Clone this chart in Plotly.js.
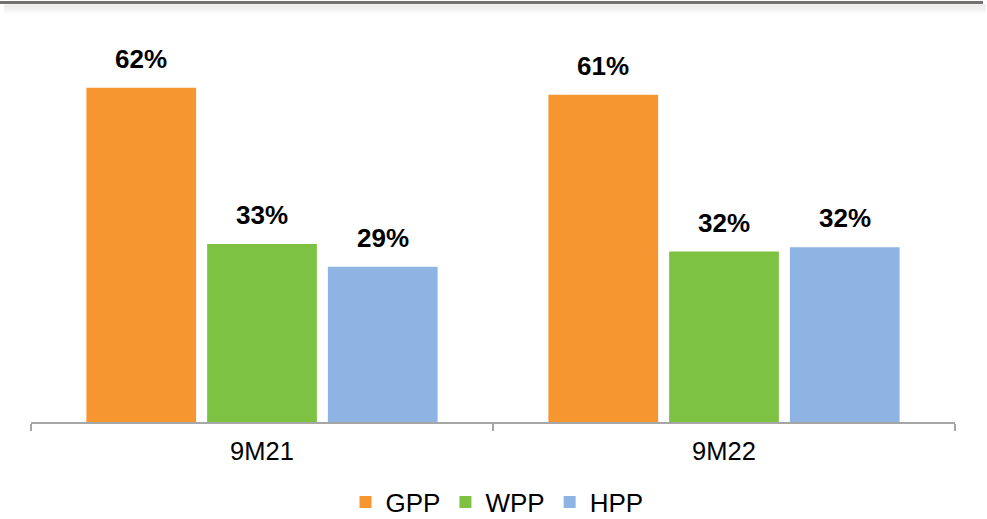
<!DOCTYPE html>
<html><head><meta charset="utf-8">
<script src="https://cdn.plot.ly/plotly-3.0.1.min.js"></script>
<style>html,body{margin:0;padding:0;background:#fff}#chart{width:987px;height:519px}</style>
</head><body><div id="chart"></div>
<script>
// ---- data ----
const categories = ['9M21', '9M22'];
const seriesNames = ['GPP', 'WPP', 'HPP'];
const gppValues = [62.0, 60.7];
const wppValues = [33.0, 31.6];
const hppValues = [28.8, 32.4];

// ---- styles / layout constants ----
const colors = ['#F59630', '#7EC244', '#8EB4E3'];
const W = 987, H = 519;
const margin = {l: 31, r: 32, t: 30, b: 97, autoexpand: false};
const yMax = 72.7;
const bargap = 0.216, bargroupgap = 0.091;
const FONT = 'Liberation Sans, Arial, sans-serif';

const series = [gppValues, wppValues, hppValues];
const traces = series.map((vals, i) => ({
  type: 'bar', name: seriesNames[i], x: categories, y: vals,
  marker: {color: colors[i]}, hoverinfo: 'skip'
}));

const slot = (1 - bargap) / series.length;
const annotations = [];
series.forEach((vals, i) => vals.forEach((v, j) => annotations.push({
  xref: 'x', yref: 'y', x: j + (i - (series.length - 1) / 2) * slot, y: v,
  text: '<b>' + Math.round(v) + '%</b>', showarrow: false,
  yanchor: 'bottom', yshift: 12,
  font: {family: FONT, size: 26, color: '#000'}
})));

const plotH = H - margin.t - margin.b;
const pyToPaper = py => 1 + (margin.t - py) / plotH;
const pxToPaper = px => (px - margin.l) / (W - margin.l - margin.r);
const shapes = [];
// soft shadow under the top rule
for (let k = 0; k < 10; k++) {
  shapes.push({type: 'line', xref: 'paper', yref: 'paper',
    x0: pxToPaper(4), x1: pxToPaper(986), y0: pyToPaper(5 + k), y1: pyToPaper(5 + k),
    line: {color: 'rgba(120,120,120,' + (0.16 * (1 - k / 10)).toFixed(3) + ')', width: 1}});
}
shapes.push({type: 'line', xref: 'paper', yref: 'paper',
  x0: pxToPaper(0), x1: pxToPaper(983), y0: pyToPaper(2.5), y1: pyToPaper(2.5),
  line: {color: '#767171', width: 3}});

const layout = {
  width: W, height: H, margin: margin,
  paper_bgcolor: '#fff', plot_bgcolor: '#fff',
  barmode: 'group', bargap: bargap, bargroupgap: bargroupgap,
  font: {family: FONT, color: '#000'},
  showlegend: true,
  legend: {orientation: 'h', x: pxToPaper(497), xanchor: 'center', y: pyToPaper(502), yanchor: 'middle',
           font: {family: FONT, size: 26, color: '#000'}, traceorder: 'normal'},
  xaxis: {type: 'category', showline: true, linecolor: '#A6A6A6', linewidth: 1.5,
          ticks: 'outside', tickson: 'boundaries', ticklen: 7, tickcolor: '#A6A6A6', tickwidth: 1.5,
          ticklabelstandoff: 6,
          tickfont: {family: FONT, size: 25.5, color: '#000'}, showgrid: false, zeroline: false,
          fixedrange: true},
  yaxis: {range: [0, yMax], visible: false, showgrid: false, zeroline: false, fixedrange: true},
  annotations: annotations, shapes: shapes
};
Plotly.newPlot('chart', traces, layout, {displayModeBar: false, staticPlot: true});
</script></body></html>
